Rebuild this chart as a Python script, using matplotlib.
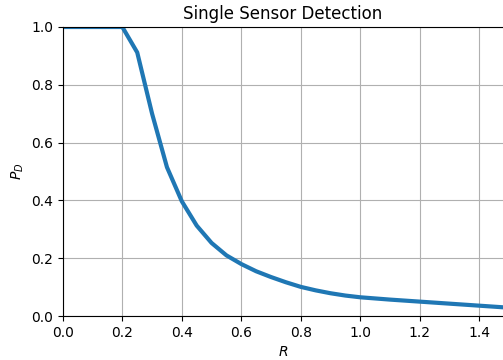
import matplotlib
matplotlib.use("Agg")
import matplotlib.pyplot as plt

# detection probability vs. range
r_values = [0.0, 0.05, 0.1, 0.15, 0.2, 0.25, 0.3, 0.35, 0.4, 0.45, 0.5, 0.55,
            0.6, 0.65, 0.7, 0.75, 0.8, 0.85, 0.9, 0.95, 1.0,
            1.1, 1.2, 1.3, 1.4, 1.5]
pd_values = [1.0, 1.0, 1.0, 1.0, 1.0, 0.912, 0.70, 0.515, 0.397, 0.313, 0.253, 0.21,
             0.18, 0.155, 0.135, 0.117, 0.101, 0.089, 0.079, 0.071, 0.065,
             0.057, 0.050, 0.043, 0.036, 0.029]

fig = plt.figure(figsize=(5.03, 3.6), dpi=100)
ax = fig.add_axes([0.125, 0.122, 0.875, 0.803])

ax.plot(r_values, pd_values, color='tab:blue', linewidth=3)

ax.set_title("Single Sensor Detection", fontsize=12)
ax.set_xlabel("$R$")
ax.set_ylabel("$P_D$")
ax.set_xlim(0, 1.48)
ax.set_ylim(0, 1.0)
ax.grid(True)
ax.spines['right'].set_visible(False)

fig.savefig("out.png", dpi=100)
